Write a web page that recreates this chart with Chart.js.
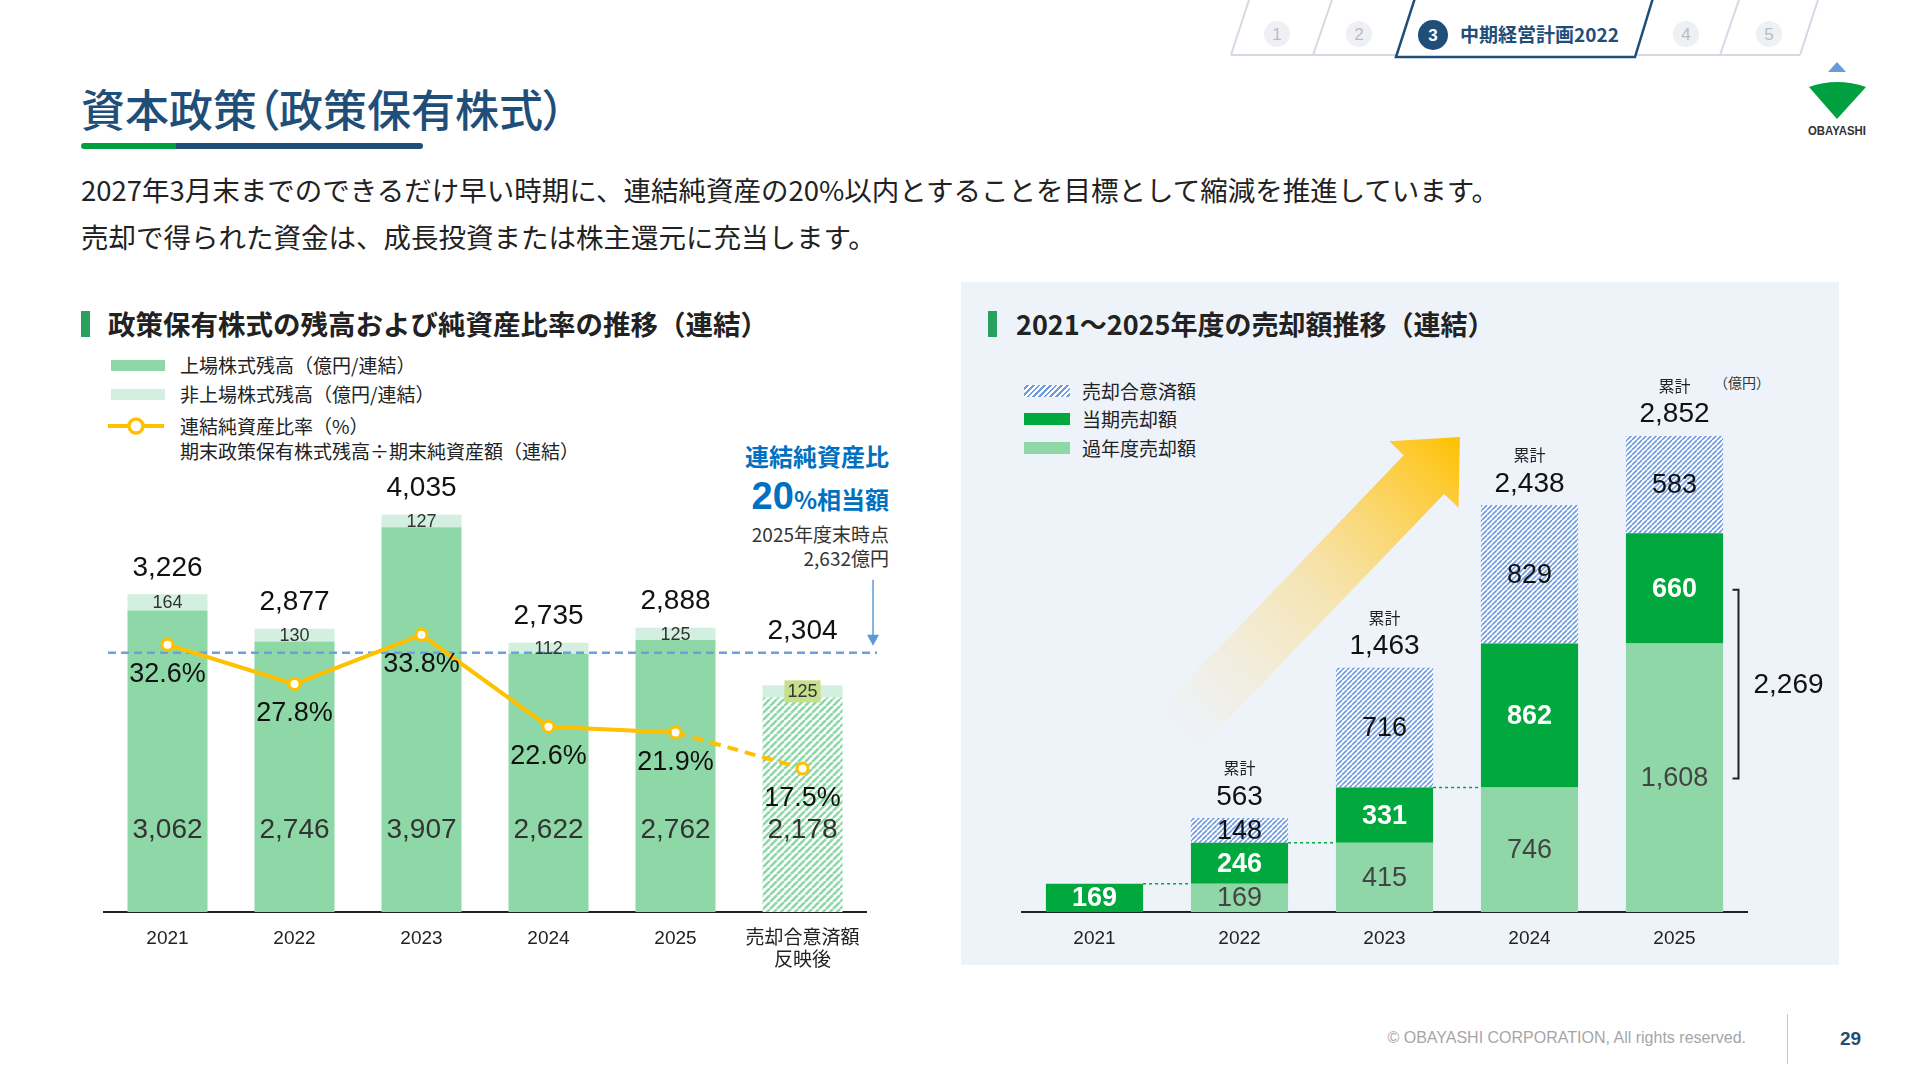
<!DOCTYPE html>
<html lang="ja">
<head>
<meta charset="utf-8">
<script src="https://cdn.jsdelivr.net/npm/chart.js@4.4.1/dist/chart.umd.min.js"></script>
<style>
  body { margin: 0; width: 1920px; height: 1080px; background: #fff; overflow: hidden; position: relative;
         font-family: "Noto Sans CJK JP", "Noto Sans", sans-serif; color: #222; }
  .t { position: absolute; white-space: nowrap; line-height: 1; }
  .panel { position: absolute; left: 961px; top: 282px; width: 878px; height: 683px; background: #eef3fa; }
  .hbar { position: absolute; width: 9px; height: 26px; background: #27a060; }
  .sw { position: absolute; width: 54px; height: 11px; }
  canvas { position: absolute; }
</style>
</head>
<body>

<!-- top tabs + logo -->
<svg style="position:absolute;left:0;top:0" width="1920" height="150">
  <g stroke="#d3dae4" stroke-width="2" fill="none">
    <line x1="1231" y1="55" x2="1396" y2="55"/>
    <line x1="1635" y1="55" x2="1800" y2="55"/>
    <line x1="1231" y1="55" x2="1249" y2="0"/>
    <line x1="1313" y1="55" x2="1332" y2="0"/>
    <line x1="1720" y1="55" x2="1739" y2="0"/>
    <line x1="1800" y1="55" x2="1818" y2="0"/>
  </g>
  <polygon points="1396,57 1415,-2 1653,-2 1635,57" fill="#fff" stroke="#1f4e79" stroke-width="2.5"/>
  <g fill="#eef0f3">
    <circle cx="1277" cy="34" r="13"/><circle cx="1359" cy="34" r="13"/>
    <circle cx="1686" cy="34" r="13"/><circle cx="1769" cy="34" r="13"/>
  </g>
  <g fill="#b8bcc4" font-size="17" font-family="Liberation Sans" text-anchor="middle">
    <text x="1277" y="40">1</text><text x="1359" y="40">2</text>
    <text x="1686" y="40">4</text><text x="1769" y="40">5</text>
  </g>
  <circle cx="1433" cy="35" r="15" fill="#1f4e79"/>
  <text x="1433" y="41" fill="#fff" font-size="17" font-weight="bold" font-family="Liberation Sans" text-anchor="middle">3</text>
  <text x="1460" y="42" fill="#1f4e79" font-size="19" font-weight="bold" font-family="Noto Sans CJK JP">中期経営計画2022</text>
  <polygon points="1828,72 1846,72 1837,62" fill="#6a9bd8"/>
  <path d="M1809,87 Q1837,77 1866,87 L1837,119 Z" fill="#00a040"/>
  <text x="1837" y="135" fill="#333" font-size="12" font-weight="bold" font-family="Liberation Sans" text-anchor="middle" textLength="58" lengthAdjust="spacingAndGlyphs">OBAYASHI</text>
</svg>

<!-- title -->
<div class="t" style="left:81px;top:86px;font-size:44px;color:#1f4e79;font-weight:500;font-feature-settings:'palt'">資本政策（政策保有株式）</div>
<div style="position:absolute;left:81px;top:143px;width:95px;height:6px;background:#00a040;border-radius:3px 0 0 3px"></div>
<div style="position:absolute;left:176px;top:143px;width:247px;height:6px;background:#1f4e79;border-radius:0 3px 3px 0"></div>
<div class="t" style="left:81px;top:176px;font-size:27.5px">2027年3月末までのできるだけ早い時期に、連結純資産の20%以内とすることを目標として縮減を推進しています。</div>
<div class="t" style="left:81px;top:223px;font-size:27.5px">売却で得られた資金は、成長投資または株主還元に充当します。</div>

<!-- left section -->
<div class="hbar" style="left:81px;top:311px"></div>
<div class="t" style="left:108px;top:310px;font-size:27.5px;font-weight:bold">政策保有株式の残高および純資産比率の推移（連結）</div>
<div class="sw" style="left:111px;top:360px;background:#8ed8a8"></div>
<div class="t" style="left:180px;top:355px;font-size:19px">上場株式残高（億円/連結）</div>
<div class="sw" style="left:111px;top:389px;background:#d3efdf"></div>
<div class="t" style="left:180px;top:384px;font-size:19px">非上場株式残高（億円/連結）</div>
<svg style="position:absolute;left:105px;top:414px" width="62" height="24">
  <line x1="3" y1="12" x2="59" y2="12" stroke="#ffc000" stroke-width="4"/>
  <circle cx="31" cy="12" r="7" fill="#fff" stroke="#ffc000" stroke-width="3.5"/>
</svg>
<div class="t" style="left:180px;top:416px;font-size:19px">連結純資産比率（%）</div>
<div class="t" style="left:180px;top:441px;font-size:19px">期末政策保有株式残高÷期末純資産額（連結）</div>

<div class="t" style="right:1031px;top:444px;font-size:24px;font-weight:bold;color:#0070c0">連結純資産比</div>
<div class="t" style="right:1031px;top:477px;font-weight:bold;color:#0070c0"><span style="font-size:38px;font-family:'Liberation Sans'">20</span><span style="font-size:24px">%相当額</span></div>
<div class="t" style="right:1031px;top:524px;font-size:19px;color:#333">2025年度末時点</div>
<div class="t" style="right:1031px;top:548px;font-size:19px;color:#333">2,632億円</div>

<canvas id="leftChart" width="820" height="562" style="left:84px;top:440px"></canvas>

<!-- right section -->
<div class="panel"></div>
<div class="hbar" style="left:988px;top:311px"></div>
<div class="t" style="left:1016px;top:310px;font-size:27px;font-weight:bold">2021～2025年度の売却額推移（連結）</div>
<div class="sw" style="left:1024px;top:385px;height:12px;width:46px;background:repeating-linear-gradient(135deg,#fff 0 2px,#6f9ae0 2px 4px)"></div>
<div class="t" style="left:1082px;top:381px;font-size:19px">売却合意済額</div>
<div class="sw" style="left:1024px;top:413px;height:12px;width:46px;background:#00a83e"></div>
<div class="t" style="left:1082px;top:409px;font-size:19px">当期売却額</div>
<div class="sw" style="left:1024px;top:442px;height:12px;width:46px;background:#8fd7a7"></div>
<div class="t" style="left:1082px;top:438px;font-size:19px">過年度売却額</div>
<div class="t" style="left:1714px;top:375px;font-size:14px;color:#333">（億円）</div>

<canvas id="rightChart" width="838" height="702" style="left:1002px;top:300px"></canvas>

<!-- footer -->
<div class="t" style="right:174px;top:1030px;font-size:16px;color:#a6a6a6;font-family:'Liberation Sans'">© OBAYASHI CORPORATION, All rights reserved.</div>
<div style="position:absolute;left:1787px;top:1014px;width:1px;height:50px;background:#c8c8c8"></div>
<div class="t" style="left:1840px;top:1029px;font-size:19px;font-weight:bold;color:#1f4e79;font-family:'Liberation Sans'">29</div>

<script>
// ---- data: left chart ----
const heldYears = ['2021', '2022', '2023', '2024', '2025', ['売却合意済額', '反映後']];
const listedVals = [3062, 2746, 3907, 2622, 2762, 2178];
const unlistedVals = [164, 130, 127, 112, 125, 125];
const heldTotals = [3226, 2877, 4035, 2735, 2888, 2304];
const ratioVals = [32.6, 27.8, 33.8, 22.6, 21.9, 17.5];
const threshold20 = 2632; // 20% of net assets, 2025年度末

// ---- data: right chart ----
const saleYears = ['2021', '2022', '2023', '2024', '2025'];
const pastSales = [0, 169, 415, 746, 1608];
const currentSales = [169, 246, 331, 862, 660];
const agreedSales = [0, 148, 716, 829, 583];
const cumulative = [null, 563, 1463, 2438, 2852];
const bracketLabel = 2269;

const FONT = "'Liberation Sans', 'Noto Sans CJK JP', sans-serif";
const fmt = v => v.toLocaleString('en-US');

function hatch(bg, fg, size, lw) {
    const c = document.createElement('canvas');
    c.width = size; c.height = size;
    const g = c.getContext('2d');
    g.fillStyle = bg;
    g.fillRect(0, 0, size, size);
    g.strokeStyle = fg;
    g.lineWidth = lw;
    g.beginPath();
    for (let k = -1; k <= 1; k++) {
        g.moveTo(k * size, size);
        g.lineTo(k * size + size, 0);
    }
    g.stroke();
    return g.createPattern(c, 'repeat');
}

function label(ctx, text, x, y, size, color, bold) {
    ctx.font = (bold ? 'bold ' : '') + size + 'px ' + FONT;
    ctx.fillStyle = color;
    ctx.textAlign = 'center';
    ctx.textBaseline = 'middle';
    ctx.fillText(text, x, y);
}

const greenHatch = hatch('#ffffff', '#8ed8a8', 7, 2.6);
const blueHatch = hatch('#ffffff', '#6f9ae0', 5, 1.6);

// ---- left chart ----
const leftPlugin = {
    id: 'leftDecor',
    beforeDatasetDraw(chart, args) {
        if (args.meta.type !== 'line') return;
        const { ctx, chartArea, scales: { y } } = chart;
        const ty = y.getPixelForValue(threshold20);
        ctx.save();
        ctx.strokeStyle = '#6f9fe0';
        ctx.lineWidth = 2.5;
        ctx.setLineDash([8, 5]);
        ctx.beginPath();
        ctx.moveTo(chartArea.left + 4, ty);
        ctx.lineTo(chartArea.right + 11, ty);
        ctx.stroke();
        // pointer arrow from the note
        ctx.setLineDash([]);
        ctx.strokeStyle = '#5b9bd5';
        ctx.fillStyle = '#5b9bd5';
        ctx.lineWidth = 1.5;
        const ax = chartArea.right + 7;
        ctx.beginPath();
        ctx.moveTo(ax, ty - 73);
        ctx.lineTo(ax, ty - 14);
        ctx.stroke();
        ctx.beginPath();
        ctx.moveTo(ax - 6, ty - 18);
        ctx.lineTo(ax + 6, ty - 18);
        ctx.lineTo(ax, ty - 7);
        ctx.closePath();
        ctx.fill();
        ctx.restore();
    },
    afterDraw(chart) {
        const { ctx, scales: { x, y } } = chart;
        const listedMeta = chart.getDatasetMeta(1);
        const unlistedMeta = chart.getDatasetMeta(2);
        const lineMeta = chart.getDatasetMeta(0);
        const ty = y.getPixelForValue(threshold20);
        const innerY = y.getPixelForValue(830);
        ctx.save();
        heldTotals.forEach((tot, i) => {
            const cx = x.getPixelForValue(i);
            const top = unlistedMeta.data[i].y;
            const bandMid = (unlistedMeta.data[i].y + listedMeta.data[i].y) / 2;
            // unlisted
            if (i === heldTotals.length - 1) {
                ctx.font = '18px ' + FONT;
                const w = ctx.measureText(fmt(unlistedVals[i])).width + 6;
                ctx.fillStyle = '#c5df8a';
                ctx.fillRect(cx - w / 2, bandMid - 11, w, 22);
            }
            label(ctx, fmt(unlistedVals[i]), cx, bandMid + 1, 18, '#333');
            label(ctx, fmt(tot), cx, Math.min(top - 26, ty - 22), 28, '#111');
            label(ctx, fmt(listedVals[i]), cx, innerY, 28, '#333');
            const pt = lineMeta.data[i];
            label(ctx, ratioVals[i].toFixed(1) + '%', pt.x, pt.y + 30, 27, '#111');
        });
        ctx.restore();
    }
};

new Chart(document.getElementById('leftChart'), {
    type: 'bar',
    data: {
        labels: heldYears,
        datasets: [
            {
                type: 'line',
                label: '連結純資産比率（%）',
                data: ratioVals,
                yAxisID: 'y1',
                borderColor: '#ffc000',
                borderWidth: 4,
                pointRadius: 5.5,
                pointBorderWidth: 3,
                pointBackgroundColor: '#fff',
                pointBorderColor: '#ffc000',
                tension: 0,
                order: 0,
                segment: { borderDash: c => c.p1DataIndex === ratioVals.length - 1 ? [11, 7] : undefined }
            },
            {
                label: '上場株式残高',
                data: listedVals,
                backgroundColor: listedVals.map((v, i) => i === listedVals.length - 1 ? greenHatch : '#8ed8a8'),
                stack: 's',
                order: 1
            },
            {
                label: '非上場株式残高',
                data: unlistedVals,
                backgroundColor: '#d3efdf',
                stack: 's',
                order: 1
            }
        ]
    },
    options: {
        responsive: false,
        animation: false,
        layout: { padding: { top: 19, left: 20, right: 38, bottom: 0 } },
        plugins: { legend: { display: false }, tooltip: { enabled: false } },
        datasets: { bar: { categoryPercentage: 1, barPercentage: 0.63 } },
        scales: {
            x: {
                stacked: true,
                grid: { display: false },
                border: { color: '#222', width: 2 },
                ticks: { color: '#222', font: { size: 19, family: FONT }, padding: 7, maxRotation: 0 },
                afterFit: a => { a.height = 90; }
            },
            y: { stacked: true, display: false, min: 0, max: 4600 },
            y1: { display: false, min: 0, max: 55.24, position: 'right' }
        }
    },
    plugins: [leftPlugin]
});

// ---- right chart ----
const rightPlugin = {
    id: 'rightDecor',
    beforeDatasetsDraw(chart) {
        const { ctx, scales: { x, y } } = chart;
        // big rising arrow behind the bars
        const tail = { x: x.getPixelForValue(0.55), y: y.getPixelForValue(1060) };
        const tip = { x: x.getPixelForValue(2.52), y: y.getPixelForValue(2844) };
        const dx = tip.x - tail.x, dy = tip.y - tail.y;
        const L = Math.hypot(dx, dy);
        const u = { x: dx / L, y: dy / L };
        const n = { x: -u.y, y: u.x };
        const hw = 28, hhw = 48, hl = 52;
        const base = { x: tip.x - u.x * hl, y: tip.y - u.y * hl };
        const grad = ctx.createLinearGradient(tail.x, tail.y, tip.x, tip.y);
        grad.addColorStop(0, 'rgba(255,225,140,0)');
        grad.addColorStop(0.5, 'rgba(255,210,90,0.45)');
        grad.addColorStop(1, 'rgba(255,192,0,1)');
        ctx.save();
        ctx.fillStyle = grad;
        ctx.beginPath();
        ctx.moveTo(tail.x + n.x * hw, tail.y + n.y * hw);
        ctx.lineTo(base.x + n.x * hw, base.y + n.y * hw);
        ctx.lineTo(base.x + n.x * hhw, base.y + n.y * hhw);
        ctx.lineTo(tip.x, tip.y);
        ctx.lineTo(base.x - n.x * hhw, base.y - n.y * hhw);
        ctx.lineTo(base.x - n.x * hw, base.y - n.y * hw);
        ctx.lineTo(tail.x - n.x * hw, tail.y - n.y * hw);
        ctx.closePath();
        ctx.fill();
        ctx.restore();
    },
    afterDatasetsDraw(chart) {
        const { ctx, scales: { x, y } } = chart;
        const pastMeta = chart.getDatasetMeta(0);
        const curMeta = chart.getDatasetMeta(1);
        const agrMeta = chart.getDatasetMeta(2);
        ctx.save();
        // dotted connectors between consecutive bars
        ctx.strokeStyle = '#00a83e';
        ctx.lineWidth = 1.5;
        ctx.setLineDash([3, 3]);
        for (let i = 0; i < 3; i++) {
            const yy = y.getPixelForValue(pastSales[i] + currentSales[i]);
            const a = curMeta.data[i], b = pastMeta.data[i + 1];
            ctx.beginPath();
            ctx.moveTo(a.x + a.width / 2, yy);
            ctx.lineTo(b.x - b.width / 2, yy);
            ctx.stroke();
        }
        ctx.setLineDash([]);
        saleYears.forEach((yr, i) => {
            const mid = el => (el.y + el.base) / 2;
            if (pastSales[i] > 0) label(ctx, fmt(pastSales[i]), pastMeta.data[i].x, mid(pastMeta.data[i]) + 1, 27, '#444');
            if (currentSales[i] > 0) label(ctx, fmt(currentSales[i]), curMeta.data[i].x, mid(curMeta.data[i]) + 1, 27, '#fff', true);
            if (agreedSales[i] > 0) label(ctx, fmt(agreedSales[i]), agrMeta.data[i].x, mid(agrMeta.data[i]) + 1, 27, '#111');
            if (cumulative[i] !== null) {
                const top = y.getPixelForValue(cumulative[i]);
                const cx = x.getPixelForValue(i);
                label(ctx, fmt(cumulative[i]), cx, top - 21, 28, '#111');
                label(ctx, '累計', cx, top - 48, 16, '#222');
            }
        });
        // bracket next to 2025
        const bx = x.getPixelForValue(4) + 64;
        const b1 = y.getPixelForValue(1930), b2 = y.getPixelForValue(800);
        ctx.strokeStyle = '#222';
        ctx.lineWidth = 2;
        ctx.beginPath();
        ctx.moveTo(bx - 6, b1);
        ctx.lineTo(bx, b1);
        ctx.lineTo(bx, b2);
        ctx.lineTo(bx - 6, b2);
        ctx.stroke();
        label(ctx, fmt(bracketLabel), bx + 50, (b1 + b2) / 2 + 1, 28, '#111');
        ctx.restore();
    }
};

new Chart(document.getElementById('rightChart'), {
    type: 'bar',
    data: {
        labels: saleYears,
        datasets: [
            { label: '過年度売却額', data: pastSales, backgroundColor: '#8fd7a7' },
            { label: '当期売却額', data: currentSales, backgroundColor: '#00a83e' },
            { label: '売却合意済額', data: agreedSales, backgroundColor: blueHatch }
        ]
    },
    options: {
        responsive: false,
        animation: false,
        layout: { padding: { top: 111, left: 20, right: 93, bottom: 0 } },
        plugins: { legend: { display: false }, tooltip: { enabled: false } },
        datasets: { bar: { categoryPercentage: 1, barPercentage: 0.67 } },
        scales: {
            x: {
                stacked: true,
                grid: { display: false },
                border: { color: '#222', width: 2 },
                ticks: { color: '#222', font: { size: 19, family: FONT }, padding: 7 },
                afterFit: a => { a.height = 90; }
            },
            y: { stacked: true, display: false, min: 0, max: 3000 }
        }
    },
    plugins: [rightPlugin]
});
</script>
</body>
</html>
